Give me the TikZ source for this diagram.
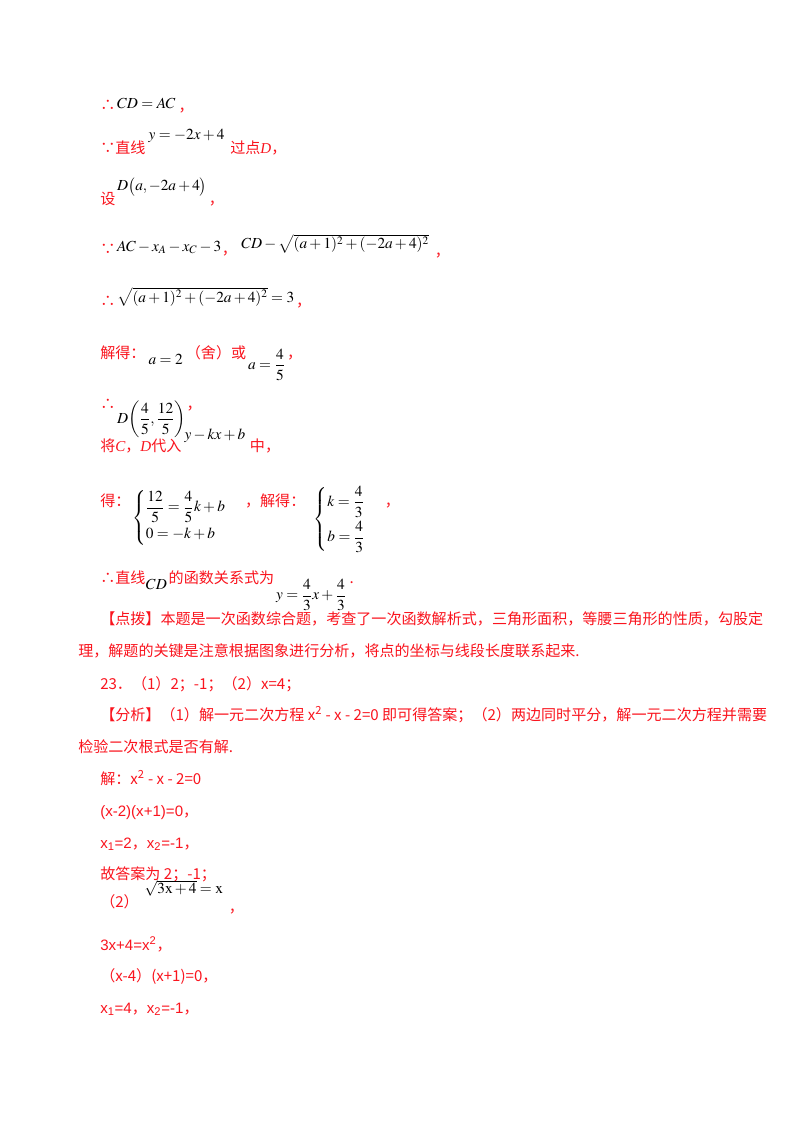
\documentclass[tikz,border=0pt]{standalone}
\usepackage{amsmath}
\usepackage{mathptmx}
\usepackage[no-math]{fontspec}
\newfontfamily\cjk{Noto Sans CJK SC}
\newfontfamily\lat{Liberation Sans}
\newfontfamily\tms{Liberation Serif}
\definecolor{rd}{RGB}{250,20,30}
\newcommand{\cm}{{\cjk ，}}
\begin{document}
\begin{tikzpicture}[x=0.75pt,y=-0.75pt,
  tx/.style={anchor=base west,inner sep=0pt,text=rd,font=\cjk\fontsize{11.3}{14}\selectfont},
  lt/.style={anchor=base west,inner sep=0pt,text=rd,font=\lat\fontsize{11.3}{14}\selectfont},
  mt/.style={anchor=base west,inner sep=0pt,text=black,font=\fontsize{11.5}{14}\selectfont},
  mc/.style={anchor=west,inner sep=0pt,text=black,font=\fontsize{11.5}{14}\selectfont}]
\useasboundingbox[fill=white] (0,0) rectangle (800,1132);
% 1
\node[tx] (a1) at (100,110) {∴};
\node[mt] (a2) at ([xshift=1pt,yshift=1pt]a1.base east) {$CD=AC$};
\node[tx] (a3) at ([xshift=2pt,yshift=-2pt]a2.base east) {，};
% 2
\node[tx] (b1) at (100,153) {∵直线};
\node[mt] (b2) at ([xshift=2pt,yshift=10pt]b1.base east) {$y=-2x+4$};
\node[tx] (b3) at ([xshift=4pt,yshift=-10pt]b2.base east) {过点{\tms\itshape D}，};
% 3
\node[tx] (c1) at (100,204) {设};
\node[mt] (c2) at ([xshift=1pt,yshift=10pt]c1.base east) {$D\bigl(a,-2a+4\bigr)$};
\node[tx] (c3) at ([xshift=1pt,yshift=-10pt]c2.base east) {，};
% 4
\node[tx] (d1) at (100,254) {∵};
\node[mt] (d2) at ([xshift=1pt,yshift=2pt]d1.base east) {$AC-x_A-x_C-3$};
\node[tx] (d3) at ([xshift=0pt,yshift=-2pt]d2.base east) {，};
\node[mt] (d4) at ([xshift=3pt,yshift=4pt]d3.base east) {$CD-\sqrt{(a+1)^2+(-2a+4)^2}$};
\node[tx] (d5) at ([xshift=4pt,yshift=-6pt]d4.base east) {，};
% 5
\node[tx] (e1) at (100,306) {∴};
\node[mt] (e2) at ([xshift=1pt,yshift=3pt]e1.base east) {$\sqrt{(a+1)^2+(-2a+4)^2}=3$};
\node[tx] (e3) at ([xshift=1pt,yshift=-3pt]e2.base east) {，};
% 6
\node[tx] (f1) at (100,358) {解得：};
\node[mt] (f2) at ([xshift=2pt,yshift=-5pt]f1.base east) {$a=2$};
\node[tx] (f3) at ([xshift=2pt,yshift=5pt]f2.base east) {（舍）或};
\node[mc] (f4) at ([xshift=1pt,yshift=-5pt]f3.base east) {$a=\dfrac{4}{5}$};
\node[tx] (f5) at ([xshift=1pt]f4.east |- f1.base) {，};
% 7
\node[tx] (g1) at (100,409) {∴};
\node[mc] (g2) at ([xshift=1pt,yshift=-8pt]g1.base east) {$D\!\left(\dfrac{4}{5},\dfrac{12}{5}\right)$};
\node[tx] (g3) at ([xshift=0pt]g2.east |- g1.base) {，};
% 8
\node[tx] (h1) at (100,451) {将{\tms\itshape C}，{\tms\itshape D}代入};
\node[mt] (h2) at ([xshift=2pt,yshift=9pt]h1.base east) {$y-kx+b$};
\node[tx] (h3) at ([xshift=3pt,yshift=-9pt]h2.base east) {中，};
% 9
\node[tx] (i1) at (100,506) {得：};
\node[mc] (i2) at ([xshift=1pt,yshift=-9pt]i1.base east) {$\begin{cases}\dfrac{12}{5}=\dfrac{4}{5}k+b\\[2pt] 0=-k+b\end{cases}$};
\node[tx] (i3) at ([xshift=2pt]i2.east |- i1.base) {，解得：};
\node[mc] (i4) at ([xshift=6pt,yshift=-10pt]i3.base east) {$\begin{cases}k=\dfrac{4}{3}\\[6pt] b=\dfrac{4}{3}\end{cases}$};
\node[tx] (i5) at ([xshift=2pt]i4.east |- i1.base) {，};
% 10
\node[tx] (j1) at (100,583) {∴直线};
\node[mt] (j2) at ([xshift=0pt,yshift=-5pt]j1.base east) {$CD$};
\node[tx] (j3) at ([xshift=1pt,yshift=5pt]j2.base east) {的函数关系式为};
\node[mc] (j4) at ([xshift=1pt,yshift=-9pt]j3.base east) {$y=\dfrac{4}{3}x+\dfrac{4}{3}$};
\node[tx] (j5) at ([xshift=2pt]j4.east |- j1.base) {.};
% paragraphs
\node[tx] (k1) at (100,624) {【点拨】本题是一次函数综合题，考查了一次函数解析式，三角形面积，等腰三角形的性质，勾股定};
\node[tx] (k2) at (78,656) {理，解题的关键是注意根据图象进行分析，将点的坐标与线段长度联系起来.};
\node[tx] (k3) at (100,689) {23．（1）2；-1；（2）x=4；};
\node[tx] (k4) at (100,720) {【分析】（1）解一元二次方程 x\textsuperscript{2} - x - 2=0 即可得答案；（2）两边同时平分，解一元二次方程并需要};
\node[tx] (k5) at (78,752) {检验二次根式是否有解.};
\node[tx] (k6) at (100,784) {解：x\textsuperscript{2} - x - 2=0};
\node[lt] (k7) at (100,816) {(x-2)(x+1)=0\cm};
\node[lt] (k8) at (100,848) {x\textsubscript{1}=2\cm x\textsubscript{2}=-1\cm};
\node[tx] (k9) at (100,879) {故答案为 2；-1；};
\node[tx] (m1) at (100,907) {（2）};
\node[mt] (m2) at ([xshift=4pt,yshift=10pt]m1.base east) {$\sqrt{3\mathrm{x}+4}=\mathrm{x}$};
\node[tx] (m3) at ([xshift=4pt,yshift=-14pt]m2.base east) {，};
\node[lt] (m4) at (100,950) {3x+4=x\textsuperscript{2}\cm};
\node[tx] (m5) at (100,981) {（x-4）(x+1)=0，};
\node[lt] (m6) at (100,1013) {x\textsubscript{1}=4\cm x\textsubscript{2}=-1\cm};
\end{tikzpicture}
\end{document}
